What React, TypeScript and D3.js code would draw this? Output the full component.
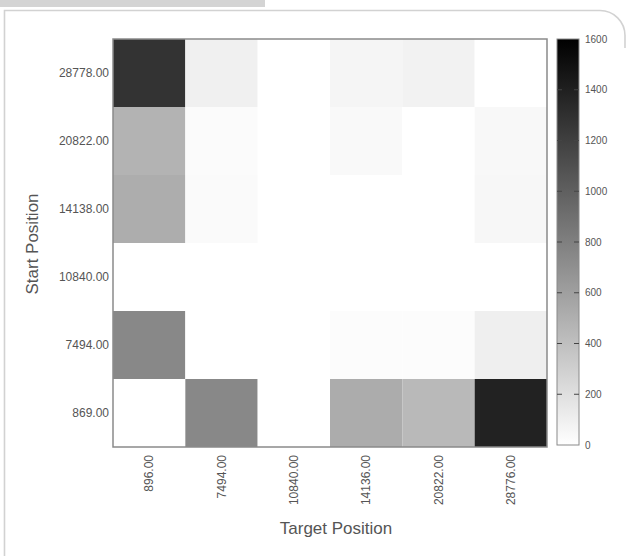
import React from "react";
import * as d3 from "d3";

// Axis categories
const targetPositions = ["896.00", "7494.00", "10840.00", "14136.00", "20822.00", "28776.00"];
const startPositions = ["869.00", "7494.00", "10840.00", "14138.00", "20822.00", "28778.00"];

// Transition counts per start position, one value per target position
const countsFrom869 = [0, 746, 0, 521, 439, 1387];
const countsFrom7494 = [746, 0, 0, 19, 19, 100];
const countsFrom10840 = [0, 0, 0, 0, 0, 0];
const countsFrom14138 = [515, 31, 0, 0, 0, 50];
const countsFrom20822 = [477, 25, 0, 38, 0, 44];
const countsFrom28778 = [1280, 94, 0, 63, 80, 0];

const colorTicks = [0, 200, 400, 600, 800, 1000, 1200, 1400, 1600];

const rows = [countsFrom869, countsFrom7494, countsFrom10840, countsFrom14138, countsFrom20822, countsFrom28778];

const W = 628;
const H = 556;
const plot = { left: 113, right: 547, top: 39, bottom: 447 };
const bar = { left: 557, right: 579, top: 39, bottom: 445 };

const FONT = "'Liberation Sans', Arial, Helvetica, sans-serif";
const TEXT = "#555";

export default function App() {
  const x = d3.scaleBand<string>().domain(targetPositions).range([plot.left, plot.right]);
  const y = d3
    .scaleBand<string>()
    .domain([...startPositions].reverse())
    .range([plot.top, plot.bottom]);
  const color = d3.scaleLinear<string>().domain([0, 1600]).range(["#ffffff", "#000000"]);
  const cy = d3.scaleLinear().domain([0, 1600]).range([bar.bottom, bar.top]);

  const cells = rows.flatMap((vals, ri) =>
    vals.map((v, ci) => ({ start: startPositions[ri], target: targetPositions[ci], v }))
  );

  return (
    <svg
      width={W}
      height={H}
      style={{ position: "absolute", left: 0, top: 0, background: "#fff" }}
      fontFamily={FONT}
    >
      <defs>
        <linearGradient id="cbar" x1="0" y1="1" x2="0" y2="0">
          <stop offset="0%" stopColor={color(0)} />
          <stop offset="100%" stopColor={color(1600)} />
        </linearGradient>
      </defs>

      {/* page frame */}
      <rect x={0} y={0} width={265} height={7} fill="#d4d4d4" />
      <path
        d="M4.5,556 V10.5 H600 A25,25 0 0 1 625,35.5 V48"
        fill="none"
        stroke="#d2d2d2"
        strokeWidth={1.6}
      />

      {/* heatmap cells */}
      {cells.map((c, i) => (
        <rect
          key={i}
          x={x(c.target)}
          y={y(c.start)}
          width={x.bandwidth()}
          height={y.bandwidth()}
          fill={color(c.v)}
        />
      ))}
      <rect
        x={plot.left}
        y={plot.top}
        width={plot.right - plot.left}
        height={plot.bottom - plot.top}
        fill="none"
        stroke="#8a8a8a"
        strokeWidth={1.5}
      />

      {/* y tick labels */}
      {startPositions.map((s) => (
        <text
          key={s}
          x={109}
          y={(y(s) ?? 0) + y.bandwidth() / 2}
          dy="0.35em"
          textAnchor="end"
          fontSize={12}
          fill={TEXT}
        >
          {s}
        </text>
      ))}

      {/* x tick labels */}
      {targetPositions.map((t) => {
        const cx = (x(t) ?? 0) + x.bandwidth() / 2;
        return (
          <text
            key={t}
            transform={`translate(${cx},455) rotate(-90)`}
            dy="0.35em"
            textAnchor="end"
            fontSize={12}
            fill={TEXT}
          >
            {t}
          </text>
        );
      })}

      {/* axis titles */}
      <text x={336} y={534} textAnchor="middle" fontSize={17} fill={TEXT}>
        Target Position
      </text>
      <text
        transform={`translate(32,244) rotate(-90)`}
        dy="0.35em"
        textAnchor="middle"
        fontSize={17}
        fill={TEXT}
      >
        Start Position
      </text>

      {/* colour bar */}
      <rect
        x={bar.left}
        y={bar.top}
        width={bar.right - bar.left}
        height={bar.bottom - bar.top}
        fill="url(#cbar)"
        stroke="#8a8a8a"
        strokeWidth={1}
      />
      {colorTicks.map((t) => (
        <g key={t}>
          {t > 0 && t < 1600 && (
            <>
              <line x1={bar.left} x2={bar.left + 5} y1={cy(t)} y2={cy(t)} stroke="#444" strokeWidth={1} />
              <line x1={bar.right - 5} x2={bar.right} y1={cy(t)} y2={cy(t)} stroke="#444" strokeWidth={1} />
            </>
          )}
          <text x={585} y={cy(t)} dy="0.35em" fontSize={10} fill={TEXT}>
            {t}
          </text>
        </g>
      ))}
    </svg>
  );
}
